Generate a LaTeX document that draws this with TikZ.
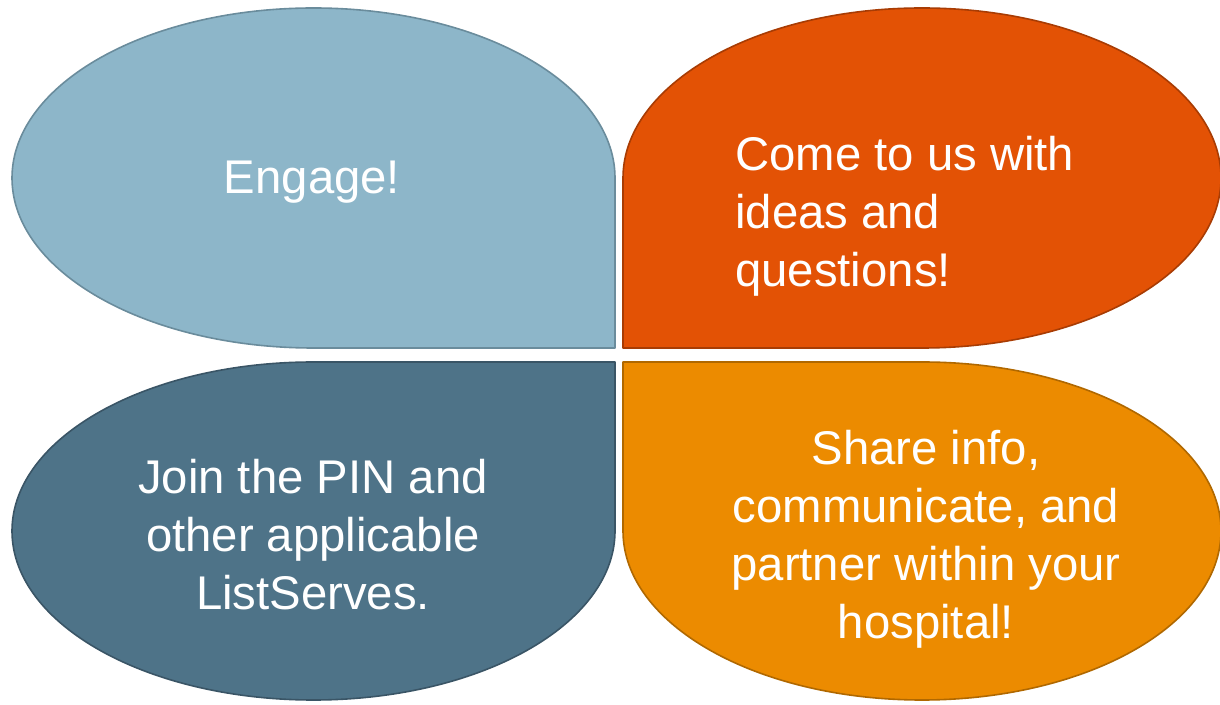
\documentclass[tikz,border=0pt]{standalone}
\usepackage{fontspec}
\setmainfont{Liberation Sans}
\definecolor{tlfill}{HTML}{8DB6C9}
\definecolor{tldraw}{HTML}{6A8C9C}
\definecolor{trfill}{HTML}{E35205}
\definecolor{trdraw}{HTML}{A83C04}
\definecolor{blfill}{HTML}{4E7388}
\definecolor{bldraw}{HTML}{3A5566}
\definecolor{brfill}{HTML}{EC8B00}
\definecolor{brdraw}{HTML}{B06800}
\tikzset{
  leaf/.style={line width=1.6pt, line join=round},
  lbl/.style={text=white, inner sep=0pt, font=\fontsize{47.3}{58}\selectfont}
}
\begin{document}
\begin{tikzpicture}[x=1pt,y=1pt]
\useasboundingbox (0,0) rectangle (1220,704);
% top-left
\path[leaf, fill=tlfill, draw=tldraw] (615,356) -- (313.5,356)
  arc[start angle=270, end angle=90, x radius=301.5, y radius=170]
  arc[start angle=90, end angle=0, x radius=301.5, y radius=170] -- cycle;
% top-right
\path[leaf, fill=trfill, draw=trdraw] (623,356) -- (623,526)
  arc[start angle=180, end angle=90, x radius=299, y radius=170]
  arc[start angle=90, end angle=-90, x radius=299, y radius=170] -- cycle;
% bottom-left
\path[leaf, fill=blfill, draw=bldraw] (615,342) -- (313.5,342)
  arc[start angle=90, end angle=270, x radius=301.5, y radius=169]
  arc[start angle=270, end angle=360, x radius=301.5, y radius=169] -- cycle;
% bottom-right
\path[leaf, fill=brfill, draw=brdraw] (623,342) -- (922,342)
  arc[start angle=90, end angle=-90, x radius=299, y radius=169]
  arc[start angle=270, end angle=180, x radius=299, y radius=169] -- cycle;
% texts
\node[lbl] (engage) at (312,522) {Engage!};
\node[lbl, align=left, anchor=west] (come) at (735,488) {Come to us with\\ideas and\\questions!};
\node[lbl, align=center] (join) at (313,169) {Join the PIN and\\other applicable\\ListServes.};
\node[lbl, align=center] (share) at (926,165) {Share info,\\communicate, and\\partner within your\\hospital!};
\end{tikzpicture}
\end{document}
